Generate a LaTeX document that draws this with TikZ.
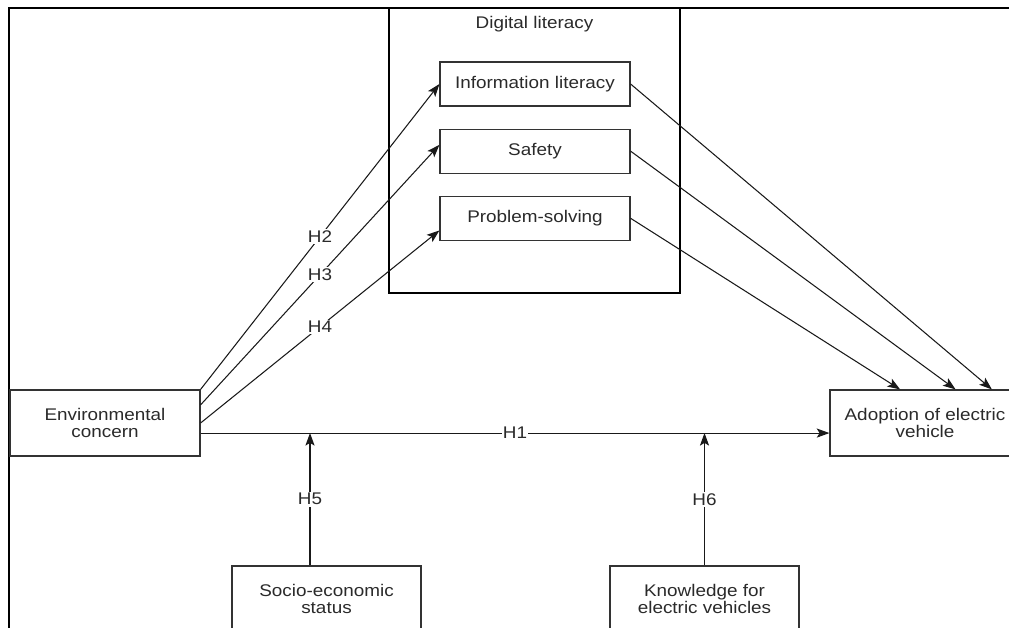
\documentclass[tikz,border=0pt]{standalone}
\usepackage{fontspec}
\setmainfont{Liberation Sans}[FakeStretch=1.12]
\usetikzlibrary{arrows.meta,positioning,calc}
\definecolor{inkgray}{HTML}{2a2a2a}
\tikzset{
    %Define standard arrow tip
    >={Stealth[length=9pt,width=6.5pt,inset=2pt]},
    %Define style for boxes
    construct/.style={
           rectangle,
           draw=black!80, line width=0.8pt,
           minimum width=4.75cm,
           minimum height=1.65cm,
           align=center,
           text=inkgray,
           font=\fontsize{12}{12}\selectfont},
    dimension/.style={
           construct,
           minimum height=1.1cm},
    hyp/.style={
          fill=white, inner sep=1pt,
          text=inkgray,
          font=\fontsize{12}{12}\selectfont
    },
    % Define arrow style
    arrow/.style={
           ->,
           line width=0.75pt,
           draw=black!90,},
}
\begin{document}
\begin{tikzpicture}[x=0.025cm, y=-0.025cm]
  \useasboundingbox (0,0) rectangle (1009,628);
  % outer frame, cut by the page
  \draw[line width=1.2pt] (9,650) -- (9,8) -- (1030,8);
  % digital literacy group
  \node[draw, line width=0.8pt, minimum width=7.275cm, minimum height=7.125cm] (dl) at (534.5,150.5) {};
  \node[hyp] (dltitle) at ($(dl.north)+(0,17)$) {Digital literacy};
  \node[dimension] (info) at (535,84) {Information literacy};
  \node[dimension, below=0.55cm of info] (safe) {Safety};
  \node[dimension, below=0.55cm of safe] (solve) {Problem-solving};
  % constructs
  \node[construct] (env) at (105,423) {Environmental\\concern};
  \node[construct] (adopt) at (925,423) {Adoption of electric\\vehicle};
  \node[construct, minimum width=4.725cm] (ses) at (326.5,599) {Socio-economic\\status};
  \node[construct, minimum width=4.725cm] (know) at (704.5,599) {Knowledge for\\electric vehicles};
  % hypotheses
  \path (env.north east) edge[arrow] node[hyp] {H2} (info.west);
  \path ($(env.north east)!0.23!(env.south east)$) edge[arrow] node[hyp] {H3} ($(safe.north west)!0.36!(safe.south west)$);
  \path (env.east) edge[arrow] node[hyp] {H4} ($(solve.north west)!0.77!(solve.south west)$);
  \path ($(env.north east)!0.65!(env.south east)$) edge[arrow] node[hyp] {H1} ($(adopt.north west)!0.65!(adopt.south west)$);
  \path (info.east) edge[arrow] ($(adopt.north west)!0.85!(adopt.north east)$);
  \path (safe.east) edge[arrow] ($(adopt.north west)!0.66!(adopt.north east)$);
  \path (solve.east) edge[arrow] ($(adopt.north west)!0.37!(adopt.north east)$);
  % moderators
  \coordinate (m5) at (310,433);
  \coordinate (m6) at (704.5,433);
  \path (ses.north -| m5) edge[arrow] node[hyp] {H5} (m5);
  \path (know.north) edge[arrow] node[hyp] {H6} (m6);
\end{tikzpicture}
\end{document}
